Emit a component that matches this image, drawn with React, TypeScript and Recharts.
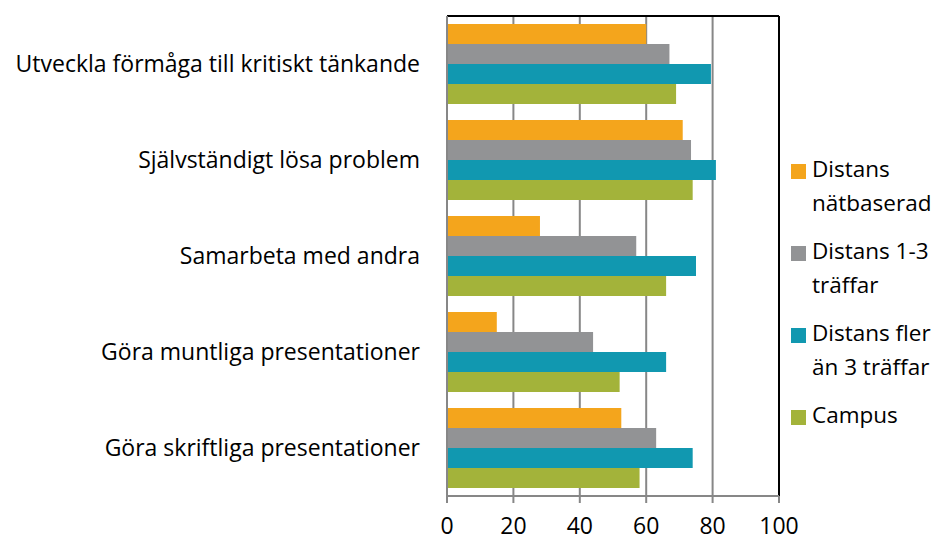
import { BarChart, Bar, XAxis, YAxis, CartesianGrid, ReferenceLine } from 'recharts'

const categories = [
  'Utveckla förmåga till kritiskt tänkande',
  'Självständigt lösa problem',
  'Samarbeta med andra',
  'Göra muntliga presentationer',
  'Göra skriftliga presentationer',
]

const natbaserad = [60, 71, 28, 15, 52.5]
const traffar13 = [67, 73.5, 57, 44, 63]
const flerAn3 = [79.5, 81, 75, 66, 74]
const campus = [69, 74, 66, 52, 58]

const xTicks = [0, 20, 40, 60, 80, 100]

const series = [
  { key: 'natbaserad', label: ['Distans', 'nätbaserad'], color: '#f4a51c' },
  { key: 'traffar13', label: ['Distans 1-3', 'träffar'], color: '#929395' },
  { key: 'flerAn3', label: ['Distans fler', 'än 3 träffar'], color: '#1198b0' },
  { key: 'campus', label: ['Campus'], color: '#a3b33a' },
]

const data = categories.map((name, i) => ({
  name,
  natbaserad: natbaserad[i],
  traffar13: traffar13[i],
  flerAn3: flerAn3[i],
  campus: campus[i],
}))

const font = "'Open Sans', sans-serif"

export default function App() {
  return (
    <div style={{ position: 'absolute', left: 0, top: 0, width: 936, height: 541, fontFamily: font, background: '#fff' }}>
      <BarChart
        width={936}
        height={541}
        data={data}
        layout="vertical"
        margin={{ top: 15, right: 157, bottom: 0, left: 0 }}
        barGap={0}
        barSize={20}
      >
        <CartesianGrid horizontal={false} stroke="#878787" strokeWidth={2} />
        <XAxis
          type="number"
          domain={[0, 100]}
          ticks={xTicks}
          height={45}
          tick={{ fill: '#000', fontSize: 23, fontFamily: font }}
          axisLine={{ stroke: '#878787', strokeWidth: 2 }}
          tickLine={{ stroke: '#878787', strokeWidth: 2 }}
          tickSize={7}
          tickMargin={15}
        />
        <XAxis
          xAxisId="top"
          orientation="top"
          type="number"
          domain={[0, 100]}
          ticks={xTicks}
          height={1}
          tick={false}
          tickLine={false}
          axisLine={{ stroke: '#000', strokeWidth: 2 }}
        />
        <YAxis
          type="category"
          dataKey="name"
          width={447}
          tick={{ fill: '#000', fontSize: 23, fontFamily: font }}
          axisLine={{ stroke: '#878787', strokeWidth: 2 }}
          tickLine={false}
          tickMargin={21}
        />
        {series.map((s) => (
          <Bar key={s.key} dataKey={s.key} fill={s.color} isAnimationActive={false} />
        ))}
        <ReferenceLine x={100} stroke="#000" strokeWidth={2} />
      </BarChart>
      <div style={{ position: 'absolute', left: 791, top: 152, width: 145 }}>
        {series.map((s) => (
          <div key={s.key} style={{ position: 'relative', paddingLeft: 21, fontSize: 22.5, lineHeight: '34px', color: '#000', marginBottom: 14, whiteSpace: 'nowrap' }}>
            <span style={{ position: 'absolute', left: 0, top: 12, width: 15, height: 15, background: s.color }} />
            {s.label.map((l, j) => (
              <div key={j}>{l}</div>
            ))}
          </div>
        ))}
      </div>
    </div>
  )
}
